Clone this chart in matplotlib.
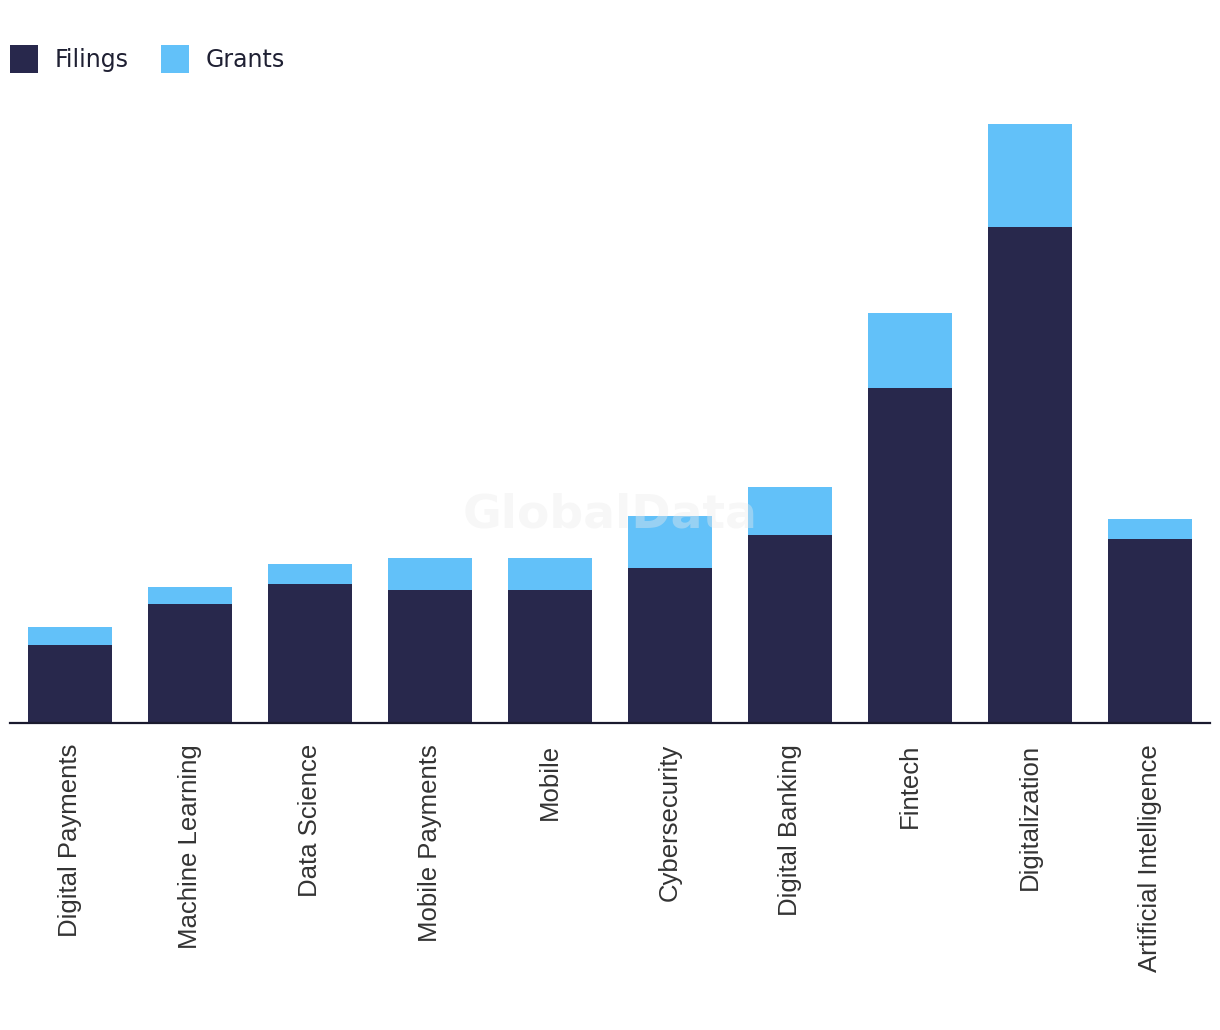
import matplotlib
matplotlib.use("Agg")
import matplotlib.pyplot as plt
from matplotlib.patches import Patch
import numpy as np

# ================== data ==================
categories = ["Digital Payments", "Machine Learning", "Data Science", "Mobile Payments",
              "Mobile", "Cybersecurity", "Digital Banking", "Fintech", "Digitalization",
              "Artificial Intelligence"]
filings = [78, 119, 139, 133, 133, 155, 188, 335, 496, 184]
grants = [18, 17, 20, 32, 32, 52, 48, 75, 103, 20]

DARK = '#28284c'
LIGHT = '#62c1f9'

fig = plt.figure(figsize=(12.2, 10.3), dpi=100, facecolor='white')
ax = fig.add_axes([10 / 1220, 1 - 723 / 1030, 1200 / 1220, 623 / 1030])

x = np.arange(len(categories))
ax.bar(x, filings, width=0.7, color=DARK, zorder=2)
ax.bar(x, grants, width=0.7, bottom=filings, color=LIGHT, zorder=2)

ax.set_xlim(-0.5, len(categories) - 0.5)
ax.set_ylim(0, 623)
ax.set_yticks([])
for s in ['top', 'right', 'left']:
    ax.spines[s].set_visible(False)
ax.spines['bottom'].set_color('#1a1a2e')
ax.spines['bottom'].set_linewidth(1.6)
ax.spines['bottom'].set_zorder(3)

ax.set_xticks(x)
ax.set_xticklabels(categories, rotation=90, ha='center', va='top',
                   fontsize=18.5, color='#333333', family='Liberation Sans')
ax.tick_params(axis='x', length=0, pad=15)

# watermark
ax.text(4.5, 208, 'GlobalData', ha='center', va='center', fontsize=34,
        fontweight='bold', color='#ebebeb', alpha=0.4, zorder=3)

handles = [Patch(facecolor=DARK, label='Filings'), Patch(facecolor=LIGHT, label='Grants')]
fig.legend(handles=handles, loc='upper left', bbox_to_anchor=(10 / 1220, 1 - 45 / 1030), ncol=2,
           frameon=False, fontsize=17, handlelength=1.18, handleheight=1.45,
           handletextpad=0.72, columnspacing=1.35, borderpad=0, borderaxespad=0,
           labelcolor='#1f2033')

fig.savefig('out.png', dpi=100, facecolor='white')
